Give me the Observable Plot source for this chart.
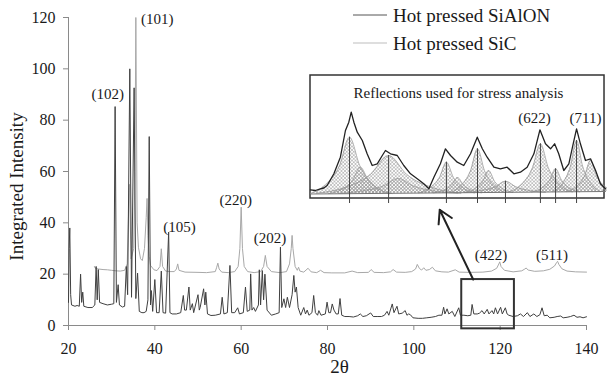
<!DOCTYPE html>
<html><head><meta charset="utf-8">
<script src="https://cdn.jsdelivr.net/npm/d3@7"></script>
<script src="https://cdn.jsdelivr.net/npm/@observablehq/plot@0.6"></script>
<style>
body{margin:0;background:#fff;}
#wrap{position:relative;width:607px;height:376px;overflow:hidden;background:#fff;}
#wrap svg{position:absolute;}
</style></head><body><div id="wrap"></div>
<script>
const FONT = '"Liberation Serif","Times New Roman",serif';

// Series names
const seriesNames = ["Hot pressed SiAlON", "Hot pressed SiC"];

// Hot pressed SiAlON pattern [2θ, intensity]
const sialon = [
[20.0,9],[20.15,30],[20.3,38],[20.5,12],[20.7,8],[21.5,7.5],[22.0,7.8],[22.5,7.5],[22.8,20],[23.05,9],[23.3,13],[23.55,7.5],
[24.5,7],[25.5,7],[26.1,8],[26.4,23],[26.65,10],[26.9,21.8],[27.2,9],[28.0,8.5],[29.0,8],[30.0,8.3],[30.5,8.5],[30.8,85.3],
[31.1,9],[31.5,15.9],[31.8,8],[32.5,7.2],[33.0,7.5],[33.4,23],[33.7,12],[34.2,100],[34.6,11],[35.2,92.6],[35.6,10.5],[36.0,20.4],
[36.4,5.5],[37.0,5],[37.5,5],[38.0,5.5],[38.4,10],[38.7,73.6],[39.0,8],[39.2,13.6],[39.5,5.5],[40.0,17.9],[40.4,5],[41.0,5],
[41.5,21.2],[41.9,5],[42.5,4.8],[43.2,36.4],[43.5,5],[44.0,4.5],[45.0,4.5],[46.0,5],[46.6,11.7],[46.9,6],[47.3,6],[47.9,15],
[48.2,6],[48.7,8.5],[49.0,5],[50.0,12],[50.3,6],[50.5,7],[51.3,14.3],[51.6,8],[51.8,13],[52.2,4.5],[53.0,3.9],[54.0,4],
[55.2,4.5],[55.6,11],[56.0,4.5],[56.8,5],[57.4,23.4],[57.8,5],[58.5,5],[59.2,6.9],[59.6,4.5],[60.5,5],[61.0,15],[61.4,5.5],
[62.0,6],[62.2,20.1],[62.5,6],[62.9,7],[63.3,5.5],[64.0,8],[64.2,21.7],[64.5,8],[64.9,21.4],[65.2,10],[65.5,20],[66.0,6],
[67.0,4],[68.0,4.5],[68.8,5],[69.1,30.5],[69.4,7],[69.9,10.4],[70.3,7],[70.7,11],[71.2,7],[71.8,12],[72.2,19.5],[72.5,13],
[72.8,15],[73.2,7],[73.8,4],[74.5,7],[74.9,4.5],[75.3,6],[75.7,4],[76.4,5],[76.8,11.7],[77.2,5],[77.7,4],[78.0,5.8],[78.5,4],
[79.5,4.5],[79.9,9.1],[80.3,5],[80.7,5],[81.1,8.4],[81.5,6],[82.0,4.5],[82.5,4.5],[82.9,10.5],[83.3,4],[84.0,3.5],[85.0,3.5],
[86.0,3.3],[87.0,3.8],[87.6,4.5],[88.2,3.5],[89.0,3.8],[90.0,4.9],[90.6,3.5],[91.5,3.5],[92.5,3.5],[93.2,4],[93.8,5.5],[94.2,4],
[95.0,8.4],[95.4,5],[96.1,7.5],[96.5,4.5],[97.3,4.8],[98.0,5.8],[98.4,4],[98.8,4.5],[99.2,4.2],[99.8,3],[101,2.8],[102,2.8],
[103,3],[104,3.2],[105,3.5],[105.8,4],[106.5,4],[106.9,7.1],[107.2,4.5],[107.7,6.5],[108.1,4.5],[108.9,5.5],[109.5,3.5],[110.4,6.9],
[110.8,4],[111.6,4],[112.5,3.8],[113.2,4],[113.5,8.2],[113.9,4.5],[114.7,4.5],[115.2,4.8],[115.8,5.8],[116.3,4.5],[117.0,6.3],
[117.4,4.5],[118.1,5.8],[118.5,4.5],[118.9,6.9],[119.4,4.5],[120.1,7.1],[120.5,4.5],[121.2,6.9],[121.6,4.5],[122.0,4],[123,3.5],
[124,3.8],[124.7,4.5],[125.4,3.5],[126.3,5],[126.9,3.5],[127.8,4.5],[128.5,3.5],[129.2,4.2],[129.7,6.9],[130.2,3.8],[130.9,4],
[131.5,3],[132.5,3.2],[133.2,3.5],[134.0,3.7],[134.6,3],[135.5,3.2],[136.3,3.5],[137.1,4],[137.8,3.2],[138.5,3.4],[139.2,3],[140,3.4]
];

// Hot pressed SiC pattern [2θ, intensity]
const sic = [
[26.0,23],[26.2,22.3],[27,22],[28,21.8],[29,21.7],[30,21.5],[31,21.3],[32,21.2],[33,21.5],[33.6,24],[34.1,55],[34.5,26],
[35.1,30],[35.4,60],[35.6,120],[35.9,40],[36.2,30.5],[36.7,26],[37.1,25.3],[37.6,30],[38.0,42],[38.2,49.5],[38.4,35],[38.7,27],
[39.0,23.4],[39.8,21.7],[40.5,21.4],[41.2,23],[41.5,29.9],[41.8,23],[42.5,21.2],[43.5,21],[44.5,21],[45.0,22],[45.3,24],[45.6,21.5],
[47,20.8],[50,20.7],[52,20.6],[54.0,21],[54.3,22.5],[54.6,24.3],[54.9,22],[55.5,20.8],[57,20.6],[58.5,21],[59.3,23],[59.7,30],
[60.0,46.1],[60.3,30],[60.7,23],[61.5,21],[63,20.6],[64.5,21],[65.2,23],[65.6,27.3],[66.0,23],[67,21],[69,20.6],[70.5,21],
[71.2,24],[71.6,30],[71.8,35.1],[72.0,30],[72.5,23],[73.0,21.5],[73.3,22.7],[73.6,21.2],[74.5,20.8],[75.5,22.3],[76.2,20.9],
[77.5,20.6],[78.4,21.5],[79.2,20.6],[81,20.5],[84,20.5],[85.7,21.2],[87,20.6],[89.5,20.7],[90.1,21.8],[90.8,20.7],[93,20.6],
[94.6,20.9],[95.2,21.8],[96,20.8],[98,20.7],[99.5,21],[100.4,22],[100.8,23.8],[101.3,22.2],[101.8,21.6],[102.3,22.5],[102.8,21.5],
[103.6,21.8],[104.3,22.7],[105.0,21.3],[106.5,20.9],[108,20.8],[109.6,21.7],[110.5,20.8],[113,20.7],[116,20.8],[118,21.2],
[119.2,22.3],[119.7,24],[119.9,24.8],[120.2,23],[121,21.5],[123,20.9],[125,21.3],[125.7,22],[126.0,22.4],[126.5,21.6],[128,21.1],
[130,21.3],[131.5,21.9],[132.6,23.2],[133.1,24.6],[133.3,25],[133.6,23.8],[134.3,22.1],[135.5,21.2],[137.5,20.9],[140,20.8]
];

// Axis ticks
const xTicks = [20, 40, 60, 80, 100, 120, 140];
const yTicks = [0, 20, 40, 60, 80, 100, 120];

// Peak labels
const peakLabels = ["(101)", "(102)", "(105)", "(220)", "(202)", "(422)", "(511)"];
const peakLabelX = [40.55, 29.1, 45.7, 58.76, 66.7, 117.9, 132.0];
const peakLabelY = [119.5, 90, 38.3, 49, 34, 27.3, 27.3];

// Zoom rectangle and arrow (data coords)
const zoomBox = [111.1, 123.3, -1.3, 17.9];
const arrowFromTo = [113.75, 17.9, 106.0, 45.1];

// Inset: measured profile [2θ, intensity, arb.]
const insetMeasured = [
[111.10,8.7],[111.3,8],[111.51,9.7],[111.65,10.5],[111.79,13],[112.07,24.7],[112.34,41.3],[112.55,68],[112.69,76.3],[112.79,86.3],
[112.90,76.3],[113.04,66.3],[113.25,58],[113.45,44.7],[113.66,33],[113.87,34.7],[114.08,43],[114.21,48],[114.42,44.7],[114.70,43],
[114.97,33],[115.25,24.7],[115.53,19.7],[115.80,14.7],[116.01,9.7],[116.22,21.3],[116.49,34.7],[116.70,49.7],[116.91,43],[117.19,36.3],
[117.46,33],[117.74,44.7],[118.02,61.3],[118.23,49.7],[118.43,41.3],[118.71,31.3],[118.98,29.7],[119.26,31.3],[119.54,24.7],[119.81,26.3],
[120.09,31.3],[120.37,44.7],[120.62,68.7],[120.85,54.7],[121.06,49.7],[121.23,54.7],[121.40,44.7],[121.61,28],[121.82,34.7],[122.00,54.7],
[122.14,69.7],[122.30,54.7],[122.51,38],[122.72,39.7],[122.93,28],[123.13,14.7],[123.34,9.7]
];

// Inset: fitted component peaks [2θ, intensity]
const insetComponents = [
[[111.06,4.8],[111.68,12.7],[112.31,33.1],[112.72,61.3],[113.14,33.1],[113.76,12.7],[114.38,4.8]],
[[111.85,4.9],[112.35,8.6],[112.84,18.1],[113.17,31.3],[113.50,18.1],[113.99,8.6],[114.49,4.9]],
[[111.34,5.2],[112.47,10.5],[113.59,24.1],[114.34,43],[115.09,24.1],[116.21,10.5],[117.34,5.2]],
[[112.26,5.2],[113.19,7.3],[114.12,12.6],[114.74,20],[115.36,12.6],[116.29,7.3],[117.22,5.2]],
[[115.58,5.6],[116.02,9.9],[116.45,21.0],[116.74,36.3],[117.03,21.0],[117.47,9.9],[117.90,5.6]],
[[116.2,5.7],[116.58,7.8],[116.95,13.4],[117.2,21],[117.45,13.4],[117.83,7.8],[118.2,5.7]],
[[116.87,5.9],[117.31,12.0],[117.74,27.8],[118.03,49.7],[118.32,27.8],[118.76,12.0],[119.19,5.9]],
[[117.49,6],[117.87,9.1],[118.24,17],[118.49,28],[118.74,17],[119.12,9.1],[119.49,6]],
[[117.53,6.2],[118.15,7.8],[118.78,11.8],[119.19,17.3],[119.61,11.8],[120.23,7.8],[120.85,6.2]],
[[119.32,6.5],[119.82,13.2],[120.31,30.6],[120.64,54.7],[120.97,30.6],[121.47,13.2],[121.96,6.5]],
[[120.27,6.6],[120.65,9.8],[121.02,18.2],[121.27,29.7],[121.52,18.2],[121.9,9.8],[122.27,6.6]],
[[121.14,6.8],[121.52,14],[121.89,32.4],[122.14,58],[122.39,32.4],[122.77,14],[123.14,6.8]],
[[121.72,6.9],[122.10,11.3],[122.47,22.5],[122.72,38],[122.97,22.5],[123.35,11.3],[123.72,6.9]]
];
const componentBase = [4.8,4.9,5.2,5.2,5.6,5.7,5.9,6.0,6.2,6.5,6.6,6.8,6.9];
const insetBackground = [[111.1,4.5],[123.34,7]];
const reflectionCenters = [112.72, 114.34, 116.74, 118.03, 119.19, 120.64, 121.27, 122.14];
const reflectionTops = [61.3, 43, 36.3, 49.7, 17.3, 54.7, 29.7, 58];
const insetTitle = "Reflections used for stress analysis";
const insetLabels = ["(622)", "(711)"];
const insetLabelX = [120.40, 122.51];
const insetLabelY = [80, 80];

const wrap = document.getElementById("wrap");

const main = Plot.plot({
  width: 607, height: 376,
  marginLeft: 68, marginRight: 21, marginTop: 17, marginBottom: 51,
  style: {fontFamily: FONT, fontSize: "16px", color: "#1a1a1a", background: "transparent", overflow: "visible"},
  x: {domain: [20, 140]},
  y: {domain: [0, 120]},
  marks: [
    Plot.axisX({ticks: xTicks, tickSize: 5, tickPadding: 12, stroke: "#8a8a8a", fill: "#1a1a1a", fontSize: 16, fontFamily: FONT, label: null}),
    Plot.axisY({ticks: yTicks, tickSize: 5, tickPadding: 8, stroke: "#8a8a8a", fill: "#1a1a1a", fontSize: 16, fontFamily: FONT, label: null}),
    Plot.ruleX([20], {stroke: "#8a8a8a"}),
    Plot.ruleY([0], {stroke: "#8a8a8a"}),
    Plot.line(sic, {stroke: "#a8a8a8", strokeWidth: 1}),
    Plot.line(sialon, {stroke: "#404040", strokeWidth: 1}),
    Plot.text(peakLabels, {x: (d, i) => peakLabelX[i], y: (d, i) => peakLabelY[i], text: d => d, fontSize: 15, fill: "#1a1a1a"}),
    Plot.rect([zoomBox], {x1: d => d[0], x2: d => d[1], y1: d => d[2], y2: d => d[3], fill: "none", stroke: "#333", strokeWidth: 2}),
    Plot.arrow([arrowFromTo], {x1: d => d[0], y1: d => d[1], x2: d => d[2], y2: d => d[3], stroke: "#222", strokeWidth: 2, headLength: 11}),
    Plot.text(["Integrated Intensity"], {frameAnchor: "left", dx: -52, dy: 15, rotate: -90, textAnchor: "middle", lineAnchor: "middle", text: d => d, fontSize: 19, fill: "#1a1a1a"}),
    Plot.text(["2θ"], {frameAnchor: "bottom", dx: 12, dy: 41, textAnchor: "middle", lineAnchor: "middle", text: d => d, fontSize: 19, fill: "#1a1a1a"})
  ]
});
wrap.appendChild(main);
main.style.left = "0px"; main.style.top = "0px";

// legend
const lg = d3.select(main).append("g").attr("text-anchor", "start");
const legendRows = [{y: 15, color: "#555", w: 1}, {y: 43, color: "#bdbdbd", w: 1}];
legendRows.forEach((r, i) => {
  lg.append("line").attr("x1", 353).attr("x2", 387).attr("y1", r.y).attr("y2", r.y)
    .attr("stroke", r.color).attr("stroke-width", r.w);
  lg.append("text").attr("x", 393).attr("y", r.y + 6.5).attr("font-size", 19)
    .attr("text-anchor", "start").attr("font-family", FONT).attr("fill", "#1a1a1a").text(seriesNames[i]);
});

// inset table
const compTable = [];
insetComponents.forEach((pts, i) => pts.forEach(p => compTable.push({c: i, x: p[0], y: p[1], b: componentBase[i]})));

const inset = Plot.plot({
  width: 297, height: 130, marginLeft: 0, marginRight: 0, marginTop: 0, marginBottom: 0,
  style: {fontFamily: FONT, color: "#1a1a1a", background: "transparent", overflow: "visible"},
  x: {domain: [111.1, 123.424], axis: null},
  y: {domain: [-5, 125], axis: null},
  marks: [
    Plot.rect([0], {x1: 111.1, x2: 123.3, y1: 0, y2: 123, fill: "white", stroke: "#333", strokeWidth: 1.5}),
    Plot.areaY(compTable, {x: "x", y1: "b", y2: "y", z: "c", fill: "url(#hatch)", curve: "monotone-x", clip: true}),
    Plot.line(compTable, {x: "x", y: "y", z: "c", stroke: "#9a9a9a", strokeWidth: 0.8, curve: "monotone-x", clip: true}),
    Plot.line(insetBackground, {stroke: "#777", strokeWidth: 1}),
    Plot.ruleX(reflectionCenters, {x: d => d, y1: -5, y2: (d, i) => reflectionTops[i], stroke: "#444", strokeWidth: 1}),
    Plot.line(insetMeasured, {stroke: "#222", strokeWidth: 1.3}),
    Plot.text([insetTitle], {x: 117.24, y: 105.5, text: d => d, fontSize: 15, fill: "#1a1a1a"}),
    Plot.text(insetLabels, {x: (d, i) => insetLabelX[i], y: (d, i) => insetLabelY[i], text: d => d, fontSize: 15, fill: "#1a1a1a"})
  ]
});
const defs = d3.select(inset).insert("defs", ":first-child");
const pat = defs.append("pattern").attr("id", "hatch").attr("patternUnits", "userSpaceOnUse").attr("width", 3.5).attr("height", 3.5);
pat.append("path").attr("d", "M0,3.5 L3.5,0 M0,0 L3.5,3.5").attr("stroke", "#a0a0a0").attr("stroke-width", 0.6).attr("fill", "none");
wrap.appendChild(inset);
inset.style.left = "310px"; inset.style.top = "73px";
</script></body></html>
